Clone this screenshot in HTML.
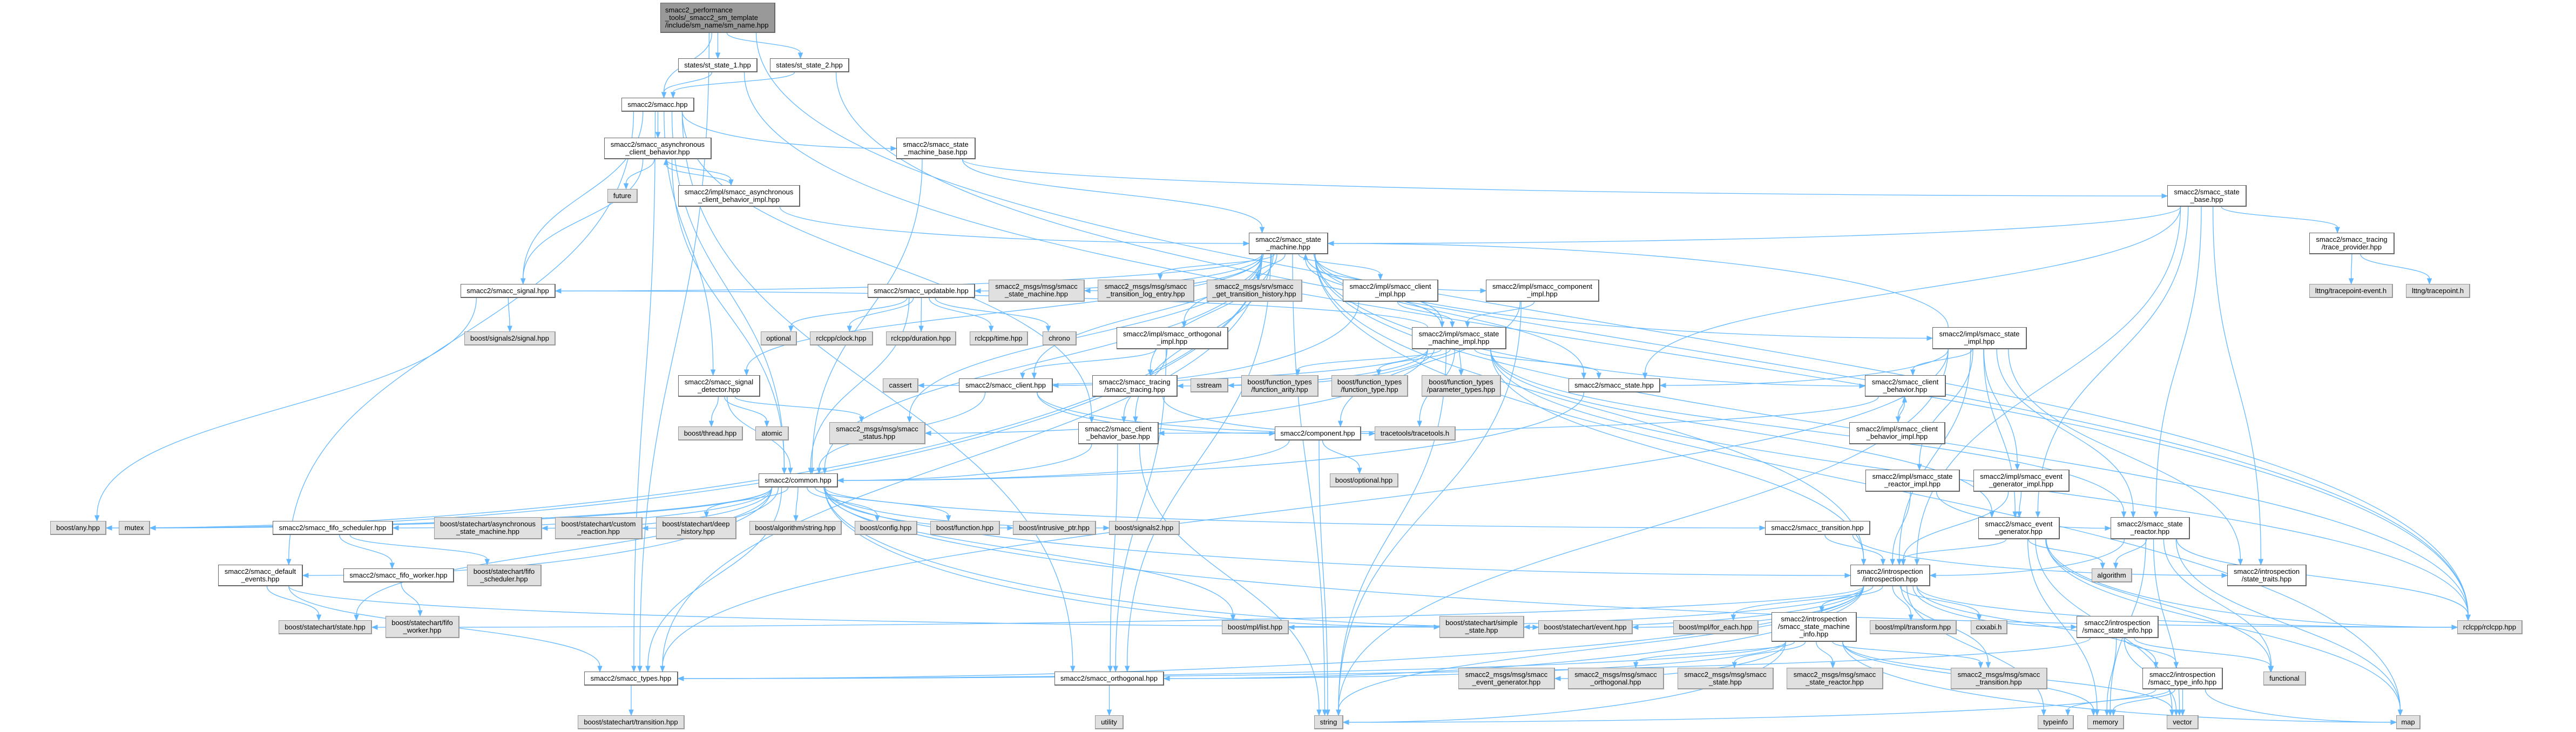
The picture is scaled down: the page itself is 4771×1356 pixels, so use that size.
<!DOCTYPE html>
<html><head><meta charset="utf-8">
<style>
html,body{margin:0;padding:0;background:#fff;}
#c{position:relative;width:4771px;height:1356px;overflow:hidden;background:#fff;}
svg{position:absolute;left:0;top:0;}
.n{position:absolute;box-sizing:border-box;border:1px solid #666;background:#fff;font-family:"Liberation Sans",sans-serif;font-size:13px;line-height:14px;color:#000;display:flex;flex-direction:column;align-items:center;justify-content:center;text-align:center;white-space:nowrap;z-index:2;border-bottom-width:2px;border-right-width:2px}
.g{background:#e0e0e0;border-color:#999;}
.r{background:#999;border-color:#666;align-items:flex-start;padding-left:8px;text-align:left}
</style></head><body><div id="c">
<svg id="s" width="4771" height="1356"></svg>
<div class="n r" id="n0" style="left:1223px;top:5px;width:213px;height:56px">smacc2_performance<br>_tools/_smacc2_sm_template<br>/include/sm_name/sm_name.hpp</div>
<div class="n" id="st1" style="left:1256px;top:108px;width:147px;height:26px">states/st_state_1.hpp</div>
<div class="n" id="st2" style="left:1426px;top:108px;width:147px;height:26px">states/st_state_2.hpp</div>
<div class="n" id="smacc" style="left:1151px;top:181px;width:135px;height:26px">smacc2/smacc.hpp</div>
<div class="n" id="acb" style="left:1119px;top:255px;width:199px;height:40px">smacc2/smacc_asynchronous<br>_client_behavior.hpp</div>
<div class="n g" id="future" style="left:1125px;top:350px;width:56px;height:26px">future</div>
<div class="n" id="acbi" style="left:1256px;top:343px;width:226px;height:40px">smacc2/impl/smacc_asynchronous<br>_client_behavior_impl.hpp</div>
<div class="n" id="smb" style="left:1660px;top:255px;width:147px;height:40px">smacc2/smacc_state<br>_machine_base.hpp</div>
<div class="n" id="sm" style="left:2313px;top:431px;width:147px;height:40px">smacc2/smacc_state<br>_machine.hpp</div>
<div class="n" id="sbase" style="left:4014px;top:343px;width:147px;height:40px">smacc2/smacc_state<br>_base.hpp</div>
<div class="n" id="trace" style="left:4277px;top:431px;width:158px;height:40px">smacc2/smacc_tracing<br>/trace_provider.hpp</div>
<div class="n g" id="lte" style="left:4277px;top:526px;width:155px;height:26px">lttng/tracepoint-event.h</div>
<div class="n g" id="ltp" style="left:4456px;top:526px;width:119px;height:26px">lttng/tracepoint.h</div>
<div class="n" id="signal" style="left:853px;top:526px;width:176px;height:26px">smacc2/smacc_signal.hpp</div>
<div class="n g" id="sig2" style="left:860px;top:614px;width:169px;height:26px">boost/signals2/signal.hpp</div>
<div class="n" id="upd" style="left:1607px;top:526px;width:199px;height:26px">smacc2/smacc_updatable.hpp</div>
<div class="n g" id="msm" style="left:1831px;top:518px;width:178px;height:41px">smacc2_msgs/msg/smacc<br>_state_machine.hpp</div>
<div class="n g" id="mtl" style="left:2033px;top:518px;width:179px;height:41px">smacc2_msgs/msg/smacc<br>_transition_log_entry.hpp</div>
<div class="n g" id="mgth" style="left:2235px;top:518px;width:177px;height:41px">smacc2_msgs/srv/smacc<br>_get_transition_history.hpp</div>
<div class="n" id="ci" style="left:2487px;top:518px;width:177px;height:41px">smacc2/impl/smacc_client<br>_impl.hpp</div>
<div class="n" id="compi" style="left:2752px;top:518px;width:210px;height:41px">smacc2/impl/smacc_component<br>_impl.hpp</div>
<div class="n g" id="opt" style="left:1409px;top:614px;width:67px;height:26px">optional</div>
<div class="n g" id="clock" style="left:1500px;top:614px;width:117px;height:26px">rclcpp/clock.hpp</div>
<div class="n g" id="dur" style="left:1641px;top:614px;width:130px;height:26px">rclcpp/duration.hpp</div>
<div class="n g" id="time" style="left:1796px;top:614px;width:108px;height:26px">rclcpp/time.hpp</div>
<div class="n g" id="chrono" style="left:1931px;top:614px;width:63px;height:26px">chrono</div>
<div class="n" id="oi" style="left:2068px;top:606px;width:207px;height:41px">smacc2/impl/smacc_orthogonal<br>_impl.hpp</div>
<div class="n" id="smi" style="left:2615px;top:606px;width:175px;height:41px">smacc2/impl/smacc_state<br>_machine_impl.hpp</div>
<div class="n" id="si" style="left:3579px;top:606px;width:175px;height:41px">smacc2/impl/smacc_state<br>_impl.hpp</div>
<div class="n" id="sd" style="left:1256px;top:695px;width:152px;height:40px">smacc2/smacc_signal<br>_detector.hpp</div>
<div class="n g" id="thread" style="left:1256px;top:790px;width:120px;height:26px">boost/thread.hpp</div>
<div class="n g" id="atomic" style="left:1399px;top:790px;width:62px;height:26px">atomic</div>
<div class="n g" id="status" style="left:1536px;top:782px;width:178px;height:41px">smacc2_msgs/msg/smacc<br>_status.hpp</div>
<div class="n g" id="cassert" style="left:1635px;top:701px;width:66px;height:26px">cassert</div>
<div class="n" id="client" style="left:1776px;top:701px;width:174px;height:26px">smacc2/smacc_client.hpp</div>
<div class="n" id="tracing" style="left:2023px;top:695px;width:158px;height:40px">smacc2/smacc_tracing<br>/smacc_tracing.hpp</div>
<div class="n g" id="sstream" style="left:2205px;top:701px;width:70px;height:26px">sstream</div>
<div class="n g" id="fa" style="left:2299px;top:695px;width:143px;height:40px">boost/function_types<br>/function_arity.hpp</div>
<div class="n g" id="ft" style="left:2466px;top:695px;width:142px;height:40px">boost/function_types<br>/function_type.hpp</div>
<div class="n g" id="pt" style="left:2633px;top:695px;width:147px;height:40px">boost/function_types<br>/parameter_types.hpp</div>
<div class="n" id="state" style="left:2905px;top:701px;width:170px;height:26px">smacc2/smacc_state.hpp</div>
<div class="n" id="cbb" style="left:1997px;top:782px;width:149px;height:41px">smacc2/smacc_client<br>_behavior_base.hpp</div>
<div class="n" id="comp" style="left:2361px;top:790px;width:160px;height:26px">smacc2/component.hpp</div>
<div class="n g" id="tt" style="left:2546px;top:790px;width:150px;height:26px">tracetools/tracetools.h</div>
<div class="n g" id="bopt" style="left:2463px;top:877px;width:127px;height:26px">boost/optional.hpp</div>
<div class="n" id="cb" style="left:3454px;top:695px;width:150px;height:40px">smacc2/smacc_client<br>_behavior.hpp</div>
<div class="n" id="cbi" style="left:3425px;top:782px;width:178px;height:41px">smacc2/impl/smacc_client<br>_behavior_impl.hpp</div>
<div class="n" id="sri" style="left:3455px;top:870px;width:175px;height:41px">smacc2/impl/smacc_state<br>_reactor_impl.hpp</div>
<div class="n" id="egi" style="left:3655px;top:870px;width:178px;height:41px">smacc2/impl/smacc_event<br>_generator_impl.hpp</div>
<div class="n" id="common" style="left:1405px;top:877px;width:147px;height:26px">smacc2/common.hpp</div>
<div class="n g" id="any" style="left:93px;top:965px;width:104px;height:26px">boost/any.hpp</div>
<div class="n g" id="mutex" style="left:220px;top:965px;width:58px;height:26px">mutex</div>
<div class="n" id="fifos" style="left:505px;top:965px;width:223px;height:26px">smacc2/smacc_fifo_scheduler.hpp</div>
<div class="n g" id="asm" style="left:804px;top:958px;width:200px;height:41px">boost/statechart/asynchronous<br>_state_machine.hpp</div>
<div class="n g" id="cr" style="left:1028px;top:958px;width:162px;height:41px">boost/statechart/custom<br>_reaction.hpp</div>
<div class="n g" id="dh" style="left:1215px;top:958px;width:149px;height:41px">boost/statechart/deep<br>_history.hpp</div>
<div class="n g" id="algs" style="left:1388px;top:965px;width:171px;height:26px">boost/algorithm/string.hpp</div>
<div class="n g" id="cfg" style="left:1583px;top:965px;width:116px;height:26px">boost/config.hpp</div>
<div class="n g" id="bfn" style="left:1723px;top:965px;width:129px;height:26px">boost/function.hpp</div>
<div class="n g" id="ip" style="left:1876px;top:965px;width:154px;height:26px">boost/intrusive_ptr.hpp</div>
<div class="n g" id="s2" style="left:2054px;top:965px;width:131px;height:26px">boost/signals2.hpp</div>
<div class="n" id="trans" style="left:3269px;top:965px;width:195px;height:26px">smacc2/smacc_transition.hpp</div>
<div class="n" id="eg" style="left:3664px;top:958px;width:151px;height:41px">smacc2/smacc_event<br>_generator.hpp</div>
<div class="n" id="sr" style="left:3909px;top:958px;width:147px;height:41px">smacc2/smacc_state<br>_reactor.hpp</div>
<div class="n" id="de" style="left:404px;top:1046px;width:157px;height:40px">smacc2/smacc_default<br>_events.hpp</div>
<div class="n" id="fw" style="left:636px;top:1053px;width:205px;height:26px">smacc2/smacc_fifo_worker.hpp</div>
<div class="n g" id="bfs" style="left:865px;top:1046px;width:138px;height:40px">boost/statechart/fifo<br>_scheduler.hpp</div>
<div class="n" id="intro" style="left:3427px;top:1046px;width:148px;height:40px">smacc2/introspection<br>/introspection.hpp</div>
<div class="n g" id="algo" style="left:3874px;top:1053px;width:75px;height:26px">algorithm</div>
<div class="n" id="st" style="left:4125px;top:1046px;width:147px;height:40px">smacc2/introspection<br>/state_traits.hpp</div>
<div class="n g" id="bss" style="left:516px;top:1149px;width:173px;height:26px">boost/statechart/state.hpp</div>
<div class="n g" id="bfw" style="left:714px;top:1141px;width:137px;height:41px">boost/statechart/fifo<br>_worker.hpp</div>
<div class="n g" id="list" style="left:2263px;top:1149px;width:124px;height:26px">boost/mpl/list.hpp</div>
<div class="n g" id="simple" style="left:2666px;top:1141px;width:157px;height:41px">boost/statechart/simple<br>_state.hpp</div>
<div class="n g" id="event" style="left:2849px;top:1149px;width:175px;height:26px">boost/statechart/event.hpp</div>
<div class="n g" id="foreach" style="left:3099px;top:1149px;width:158px;height:26px">boost/mpl/for_each.hpp</div>
<div class="n" id="smiinfo" style="left:3281px;top:1134px;width:158px;height:55px">smacc2/introspection<br>/smacc_state_machine<br>_info.hpp</div>
<div class="n g" id="transform" style="left:3463px;top:1149px;width:161px;height:26px">boost/mpl/transform.hpp</div>
<div class="n g" id="cxxabi" style="left:3650px;top:1149px;width:68px;height:26px">cxxabi.h</div>
<div class="n" id="sinfo" style="left:3846px;top:1141px;width:152px;height:41px">smacc2/introspection<br>/smacc_state_info.hpp</div>
<div class="n g" id="rclcpp" style="left:4551px;top:1149px;width:121px;height:26px">rclcpp/rclcpp.hpp</div>
<div class="n" id="types" style="left:1082px;top:1244px;width:174px;height:26px">smacc2/smacc_types.hpp</div>
<div class="n" id="orth" style="left:1953px;top:1244px;width:203px;height:26px">smacc2/smacc_orthogonal.hpp</div>
<div class="n g" id="meg" style="left:2701px;top:1237px;width:179px;height:40px">smacc2_msgs/msg/smacc<br>_event_generator.hpp</div>
<div class="n g" id="mor" style="left:2904px;top:1237px;width:178px;height:40px">smacc2_msgs/msg/smacc<br>_orthogonal.hpp</div>
<div class="n g" id="mst" style="left:3107px;top:1237px;width:178px;height:40px">smacc2_msgs/msg/smacc<br>_state.hpp</div>
<div class="n g" id="msr" style="left:3309px;top:1237px;width:179px;height:40px">smacc2_msgs/msg/smacc<br>_state_reactor.hpp</div>
<div class="n g" id="mtr" style="left:3613px;top:1237px;width:179px;height:40px">smacc2_msgs/msg/smacc<br>_transition.hpp</div>
<div class="n" id="ti" style="left:3968px;top:1237px;width:149px;height:40px">smacc2/introspection<br>/smacc_type_info.hpp</div>
<div class="n g" id="func" style="left:4192px;top:1244px;width:79px;height:26px">functional</div>
<div class="n g" id="btrans" style="left:1070px;top:1325px;width:198px;height:26px">boost/statechart/transition.hpp</div>
<div class="n g" id="utility" style="left:2028px;top:1325px;width:53px;height:26px">utility</div>
<div class="n g" id="string" style="left:2434px;top:1325px;width:54px;height:26px">string</div>
<div class="n g" id="typeinfo" style="left:3774px;top:1325px;width:67px;height:26px">typeinfo</div>
<div class="n g" id="memory" style="left:3866px;top:1325px;width:68px;height:26px">memory</div>
<div class="n g" id="vector" style="left:4013px;top:1325px;width:59px;height:26px">vector</div>
<div class="n g" id="map" style="left:4438px;top:1325px;width:45px;height:26px">map</div>
</div>
<script>
var E="n0>smacc,st1,st2,rclcpp,types;st1>smacc,rclcpp;st2>smacc,rclcpp;"+
"smacc>acb,smb,common,de,sd,signal,types,orth,cbb;acb>future,acbi,signal,common;acbi>acb,sm;"+
"smb>sm,sbase,common;sbase>trace,state,sr,intro,st,sm,eg;trace>lte,ltp;"+
"sm>upd,msm,mtl,mgth,ci,compi,oi,smi,signal,sd,common,status,any,mutex,client,tracing,state,intro,si,types,orth,map,string,rclcpp,cb,cbb;"+
"upd>opt,clock,dur,time,chrono,common;ci>smi,client;compi>smi,comp,string;oi>client,orth,cbb;"+
"smi>cassert,tracing,sstream,fa,ft,pt,state,status,string,intro,sr,eg,sm,rclcpp,signal,tt;"+
"si>state,cb,sri,egi,sr,eg,intro,sm,types,string,st;sd>thread,atomic,status,common;"+
"client>common,comp,tt;tracing>tt;state>common;cbb>common,string,orth;comp>bopt,common,string;"+
"cb>cbb,cbi;cbi>cb;sri>sr,intro;egi>eg,intro;"+
"common>any,mutex,fifos,asm,cr,dh,algs,cfg,bfn,ip,s2,trans,de,types,bss,list,event,simple,rclcpp,intro;"+
"fifos>fw,bfs;fw>bfw;de>bss,types,event;trans>intro,st;"+
"eg>intro,algo,memory,vector,func,map,rclcpp;sr>intro,algo,map,vector,func,rclcpp,memory;"+
"intro>smiinfo,transform,cxxabi,sinfo,ti,foreach,list,simple,event,bss,rclcpp,typeinfo,mtr,string,types,orth;"+
"smiinfo>msr,mtr,meg,mor,mst,types,orth,string,vector,map,memory;sinfo>ti,func,memory,vector,types;"+
"ti>typeinfo,memory,vector,map,string;types>btrans;orth>utility;signal>sig2,any";
var NS="http://www.w3.org/2000/svg",S=document.getElementById("s"),C="#63b8ff";
function B(id){var e=document.getElementById(id);return{x1:e.offsetLeft,y1:e.offsetTop,x2:e.offsetLeft+e.offsetWidth,y2:e.offsetTop+e.offsetHeight,cx:e.offsetLeft+e.offsetWidth/2,cy:e.offsetTop+e.offsetHeight/2,w:e.offsetWidth}}
function cl(v,a){return Math.max(-a,Math.min(a,v))}
function add(tag,at){var p=document.createElementNS(NS,tag);for(var k in at)p.setAttribute(k,at[k]);S.appendChild(p)}
function side(s,t){var r=t.cx>s.cx,sx=s.cx+cl((t.cx-s.cx)*0.1,s.w/3),sy=(t.y1>=s.y2)?s.y2:(t.y2<=s.y1?s.y1:s.cy);
 if(t.y1<s.y2&&t.y2>s.y1){sx=r?s.x2:s.x1;}
 var tx=r?t.x1:t.x2,ty=t.cy,e2=tx+(r?-10:10),mx=(sx+e2)/2;
 add("path",{d:"M"+sx+" "+sy+" C"+sx+" "+(sy+(ty-sy)*0.6)+" "+mx+" "+ty+" "+e2+" "+ty,stroke:C,"stroke-width":1.3,fill:"none"});
 add("path",{d:"M"+tx+" "+ty+" L"+e2+" "+(ty-4)+" L"+e2+" "+(ty+4)+"Z",fill:C,stroke:C});}
E.split(";").forEach(function(g){var q=g.split(">"),s=B(q[0]);q[1].split(",").forEach(function(t0){var t=B(t0),sx,sy,tx,ty,d;
 var dx=Math.abs(t.cx-s.cx),dyv=Math.abs(t.cy-s.cy);
 if((t.y1<s.y2&&t.y2>s.y1)||(dx>4*dyv&&dx>t.w)){side(s,t);return;}
 if(t.y1>=s.y2){sx=s.cx+cl((t.cx-s.cx)*0.1,s.w/3);sy=s.y2;tx=t.cx+cl((s.cx-t.cx)*0.1,t.w/3);ty=t.y1;d=1;}
 else{sx=s.cx+cl((t.cx-s.cx)*0.1,s.w/3);sy=s.y1;tx=t.cx+cl((s.cx-t.cx)*0.1,t.w/3);ty=t.y2;d=-1;}
 var ey=ty-10*d,dy=(ey-sy)*0.5;
 add("path",{d:"M"+sx+" "+sy+" C"+sx+" "+(sy+dy)+" "+tx+" "+(ey-dy)+" "+tx+" "+ey,stroke:C,"stroke-width":1.3,fill:"none"});
 add("path",{d:"M"+tx+" "+ty+" L"+(tx-4)+" "+ey+" L"+(tx+4)+" "+ey+"Z",fill:C,stroke:C});
});});
</script>
</body></html>
